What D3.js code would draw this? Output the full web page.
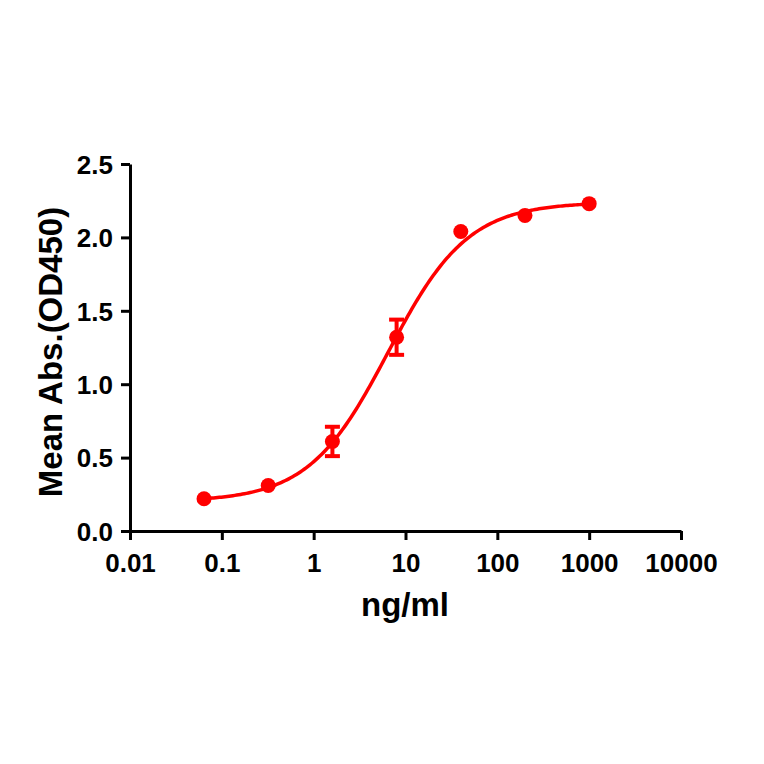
<!DOCTYPE html>
<html><head><meta charset="utf-8">
<script src="https://cdn.jsdelivr.net/npm/d3@7"></script>
<style>body{margin:0;background:#fff}svg{display:block}text{font-family:"Liberation Sans",Arial,sans-serif;font-weight:bold;fill:#000}</style>
</head><body><svg id="c" width="764" height="764"></svg>
<script>
const conc = [0.064, 0.32, 1.6, 8, 40, 200, 1000];
const meanAbs = [0.22, 0.31, 0.61, 1.32, 2.04, 2.15, 2.23];
const errAbs = [0.0, 0.0, 0.10, 0.12, 0.0, 0.0, 0.0];
const xTicks = [0.01, 0.1, 1, 10, 100, 1000, 10000];
const xTickLabels = ["0.01", "0.1", "1", "10", "100", "1000", "10000"];
const yTicks = [0, 0.5, 1.0, 1.5, 2.0, 2.5];
const yTickLabels = ["0.0", "0.5", "1.0", "1.5", "2.0", "2.5"];
// 4PL fit parameters
const fitBottom = 0.2, fitTop = 2.24, fitEC50 = 6.5, fitHill = 1.0;

const svg = d3.select("#c");
const red = "#ff0000";
const x = d3.scaleLog().domain([0.01, 10000]).range([130, 681]);
const y = d3.scaleLinear().domain([0, 2.5]).range([531, 164]);

const xAxis = svg.append("g").attr("transform", "translate(0,531)")
  .call(d3.axisBottom(x).tickValues(xTicks).tickFormat((d,i)=>xTickLabels[i]).tickSize(9).tickSizeOuter(0));
const yAxis = svg.append("g").attr("transform", "translate(130,0)")
  .call(d3.axisLeft(y).tickValues(yTicks).tickFormat((d,i)=>yTickLabels[i]).tickSize(9).tickSizeOuter(0));
[xAxis, yAxis].forEach(g => {
  g.select(".domain").attr("stroke", "#000").attr("stroke-width", 3);
  g.selectAll(".tick line").attr("stroke", "#000").attr("stroke-width", 3);
  g.selectAll(".tick text").style("font-size", "26px").attr("fill", "#000");
});
xAxis.selectAll(".tick text").attr("dy", "0").attr("y", 41);
yAxis.selectAll(".tick text").attr("x", -17).attr("dy", "0.36em");

svg.append("text").attr("x", 405).attr("y", 616).attr("text-anchor", "middle")
  .style("font-size", "33px").text("ng/ml");
svg.append("text").attr("transform", "translate(62,352) rotate(-90)").attr("text-anchor", "middle")
  .style("font-size", "33px").text("Mean Abs.(OD450)");

// fitted curve
const f = c => fitBottom + (fitTop - fitBottom) / (1 + Math.pow(fitEC50 / c, fitHill));
const lx0 = Math.log10(conc[0]), lx1 = Math.log10(conc[conc.length - 1]);
const curve = d3.range(0, 201).map(i => Math.pow(10, lx0 + (lx1 - lx0) * i / 200));
svg.append("path").datum(curve)
  .attr("d", d3.line().x(d => x(d)).y(d => y(f(d))))
  .attr("fill", "none").attr("stroke", red).attr("stroke-width", 3.5);

// error bars
const data = conc.map((c, i) => ({c, m: meanAbs[i], e: errAbs[i]}));
const eb = svg.append("g").attr("stroke", red).attr("stroke-width", 4);
data.filter(d => d.e > 0).forEach(d => {
  const cx = x(d.c);
  eb.append("line").attr("x1", cx).attr("x2", cx).attr("y1", y(d.m - d.e)).attr("y2", y(d.m + d.e));
  [d.m - d.e, d.m + d.e].forEach(v => eb.append("line").attr("x1", cx - 7.5).attr("x2", cx + 7.5).attr("y1", y(v)).attr("y2", y(v)));
});

svg.append("g").selectAll("circle").data(data).join("circle")
  .attr("cx", d => x(d.c)).attr("cy", d => y(d.m)).attr("r", 7.5).attr("fill", red);
</script></body></html>
